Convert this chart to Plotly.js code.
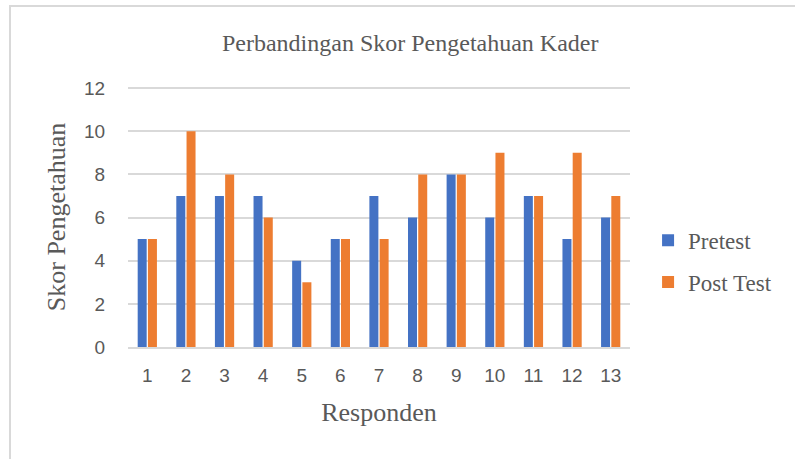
<!DOCTYPE html>
<html>
<head>
<meta charset="utf-8">
<script src="https://cdn.plot.ly/plotly-3.0.1.min.js"></script>
<style>
html,body{margin:0;padding:0;background:#fff;}
#wrap{position:relative;width:795px;height:459px;}
#chart{position:absolute;left:0;top:0;width:795px;height:459px;}
#frame{position:absolute;left:9px;top:5px;width:790px;height:460px;border-top:2px solid #d9d9d9;border-left:2px solid #d9d9d9;pointer-events:none;}
</style>
</head>
<body>
<div id="wrap"><div id="chart"></div><div id="frame"></div></div>
<script>
const categories = ['1','2','3','4','5','6','7','8','9','10','11','12','13'];
const pretest = [5,7,7,7,4,5,7,6,8,6,7,5,6];
const postTest = [5,10,8,6,3,5,5,8,8,9,7,9,7];
const yTicks = [0,2,4,6,8,10,12];

const serif = 'Liberation Serif, Times New Roman, serif';
const sans = 'Liberation Sans, Arial, sans-serif';
const grey = '#595959';

const data = [
  {type:'bar', name:'Pretest', x:categories, y:pretest, marker:{color:'#4472C4'}, legendgroup:'a'},
  {type:'bar', name:'Post Test', x:categories, y:postTest, marker:{color:'#ED7D31'}, legendgroup:'b'}
];

const layout = {
  width:795, height:459,
  margin:{l:128, r:165, t:87, b:112},
  paper_bgcolor:'#fff', plot_bgcolor:'#fff',
  barmode:'group', bargap:0.47, bargroupgap:0.12,
  title:{text:'Perbandingan Skor Pengetahuan Kader', font:{family:serif, size:24, color:grey}, x:0.516, xanchor:'center', y:0.908, yanchor:'middle'},
  xaxis:{
    type:'category',
    tickfont:{family:sans, size:19, color:grey},
    ticks:'outside', ticklen:10, tickcolor:'rgba(0,0,0,0)',
    showline:true, linecolor:'#d9d9d9', linewidth:2,
    showgrid:false,
    title:{text:'Responden', font:{family:serif, size:26, color:grey}, standoff:18}
  },
  yaxis:{
    range:[0,12.05], tickvals:yTicks,
    tickfont:{family:sans, size:19, color:grey},
    ticks:'outside', ticklen:18, tickcolor:'rgba(0,0,0,0)',
    showgrid:true, gridcolor:'#d9d9d9', gridwidth:2,
    zeroline:false, showline:false,
    title:{text:'Skor Pengetahuan', font:{family:serif, size:26, color:grey}, standoff:10}
  },
  legend:{
    x:1.036, xanchor:'left', y:0.33, yanchor:'middle',
    font:{family:serif, size:23, color:grey},
    tracegroupgap:9, itemwidth:30
  },
  showlegend:true
};

Plotly.newPlot('chart', data, layout, {displayModeBar:false, staticPlot:true});
</script>
</body>
</html>
